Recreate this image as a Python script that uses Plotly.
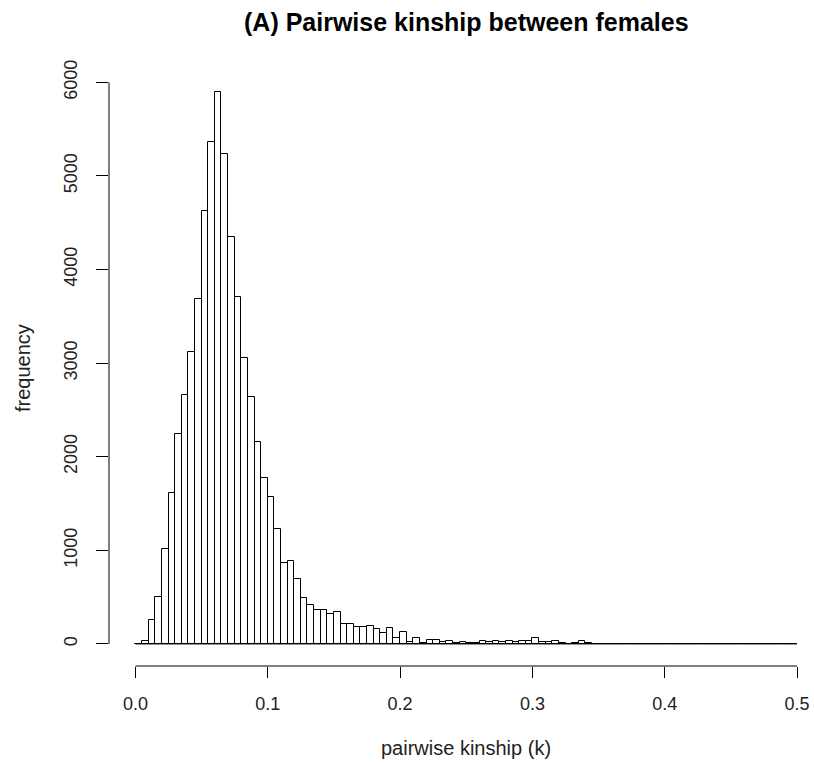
import plotly.graph_objects as go

# ---- data ----
bin_start = 0.0
bin_width = 0.005
counts = [
    0, 35, 256, 505, 1014, 1615, 2242, 2658, 3117, 3690,
    4630, 5367, 5896, 5231, 4345, 3704, 3055, 2634, 2153, 1769,
    1573, 1224, 860, 885, 689, 492, 415, 365, 365, 325,
    336, 208, 208, 180, 180, 192, 157, 115, 167, 62,
    129, 20, 62, 12, 37, 37, 22, 36, 15, 21,
    7, 7, 36, 21, 36, 21, 36, 21, 36, 36,
    64, 21, 21, 36, 14, 0, 14, 29, 7, 0,
    0, 0, 0, 0, 0, 0, 0, 0, 0, 0,
    0, 0, 0, 0, 0, 0, 0, 0, 0, 0,
    0, 0, 0, 0, 0, 0, 0, 0, 0, 0,
]
x_ticks = [0.0, 0.1, 0.2, 0.3, 0.4, 0.5]
x_tick_labels = ["0.0", "0.1", "0.2", "0.3", "0.4", "0.5"]
y_ticks = [0, 1000, 2000, 3000, 4000, 5000, 6000]
y_tick_labels = ["0", "1000", "2000", "3000", "4000", "5000", "6000"]
title_text = "(A) Pairwise kinship between females"
x_title = "pairwise kinship (k)"
y_title = "frequency"

centers = [bin_start + (i + 0.5) * bin_width for i in range(len(counts))]
x_lo = bin_start
x_hi = bin_start + len(counts) * bin_width

FONT = "Liberation Sans, Arial, sans-serif"

fig = go.Figure()
fig.add_trace(go.Bar(
    x=centers, y=counts, width=bin_width,
    marker=dict(color="white", line=dict(color="black", width=1)),
    hoverinfo="x+y",
))

# baseline (zero-count bins drawn as flat line, as in R's hist)
fig.add_shape(type="line", xref="x", yref="y", x0=x_lo, x1=x_hi, y0=0, y1=0,
              line=dict(color="black", width=1))
# detached R-style axis lines
fig.add_shape(type="line", xref="paper", yref="y", x0=0, x1=0,
              y0=y_ticks[0], y1=y_ticks[-1], line=dict(color="black", width=1))
fig.add_shape(type="line", xref="x", yref="paper", x0=x_ticks[0], x1=x_ticks[-1],
              y0=0, y1=0, line=dict(color="black", width=1))

ymax = max(counts)
fig.update_layout(
    width=814, height=764,
    margin=dict(l=108.5, r=0, t=70, b=98),
    paper_bgcolor="white", plot_bgcolor="white",
    showlegend=False,
    bargap=0,
    font=dict(family=FONT, color="black", size=18),
    xaxis=dict(
        range=[-0.02, 0.5128], showgrid=False, zeroline=False, showline=False,
        tickmode="array", tickvals=x_ticks, ticktext=x_tick_labels,
        ticks="outside", ticklen=11, tickwidth=1, tickcolor="black",
        tickfont=dict(family=FONT, size=18, color="#222"),
        ticklabelstandoff=10,
    ),
    yaxis=dict(
        range=[-0.04 * ymax, 1.04 * ymax], showgrid=False, zeroline=False, showline=False,
        tickmode="array", tickvals=y_ticks, ticktext=y_tick_labels,
        ticks="outside", ticklen=12, tickwidth=1, tickcolor="black",
        tickangle=-90,
        tickfont=dict(family=FONT, size=18, color="#222"),
        ticklabelstandoff=12,
    ),
    annotations=[
        dict(text="<b>" + title_text + "</b>", xref="paper", yref="paper",
             x=0.5067, y=1, yshift=48, xanchor="center", yanchor="middle",
             showarrow=False, font=dict(family=FONT, size=25, color="black")),
        dict(text=x_title, xref="paper", yref="paper",
             x=0.5067, y=0, yshift=-82, xanchor="center", yanchor="middle",
             showarrow=False, font=dict(family=FONT, size=20, color="#222")),
        dict(text=y_title, xref="paper", yref="paper", textangle=-90,
             x=0, xshift=-86, y=0.5, xanchor="center", yanchor="middle",
             showarrow=False, font=dict(family=FONT, size=20, color="#222")),
    ],
)

fig.write_html("out.html")
